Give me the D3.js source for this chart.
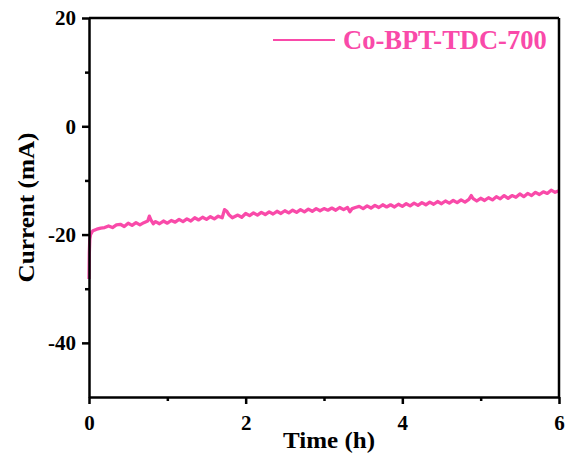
<!DOCTYPE html>
<html>
<head>
<meta charset="utf-8">
<script src="https://cdn.jsdelivr.net/npm/d3@7"></script>
<style>
  body { margin: 0; background: #fff; }
</style>
</head>
<body>
<svg id="chart" width="565" height="459"></svg>
<script>
// data: [time (h), current (mA)]
const series = [
  [0,-28.2],[0.004,-23.5],[0.01,-20.8],[0.02,-20.0],[0.035,-19.6],[0.05,-19.3],[0.1,-19.0],[0.15,-18.8],
  [0.2,-18.7],[0.25,-18.4],[0.3,-18.7],[0.35,-18.2],[0.4,-18.1],[0.45,-18.5],[0.5,-17.9],[0.55,-18.3],
  [0.6,-17.8],[0.65,-18.2],[0.7,-17.8],[0.75,-17.5],[0.77,-16.6],[0.79,-17.3],[0.82,-18.0],[0.85,-17.6],
  [0.9,-18.0],[0.95,-17.5],[1.0,-17.9],[1.05,-17.4],[1.1,-17.7],[1.15,-17.2],[1.2,-17.6],[1.25,-17.1],
  [1.3,-17.5],[1.35,-16.9],[1.4,-17.3],[1.45,-16.8],[1.5,-17.2],[1.55,-16.7],[1.6,-17.1],[1.65,-16.6],
  [1.7,-16.9],[1.73,-15.4],[1.76,-15.7],[1.79,-16.4],[1.83,-16.9],[1.9,-16.4],[1.95,-16.8],[2.0,-16.1],
  [2.05,-16.5],[2.1,-16.0],[2.15,-16.4],[2.2,-15.9],[2.25,-16.3],[2.3,-15.8],[2.35,-16.2],[2.4,-15.7],
  [2.45,-16.1],[2.5,-15.6],[2.55,-16.0],[2.6,-15.5],[2.65,-15.9],[2.7,-15.4],[2.75,-15.8],[2.8,-15.3],
  [2.85,-15.7],[2.9,-15.2],[2.95,-15.6],[3.0,-15.2],[3.05,-15.5],[3.1,-15.1],[3.15,-15.5],[3.2,-15.0],
  [3.25,-15.4],[3.3,-15.0],[3.33,-15.8],[3.36,-15.2],[3.4,-15.0],[3.45,-14.8],[3.5,-15.2],[3.55,-14.7],
  [3.6,-15.1],[3.65,-14.6],[3.7,-15.0],[3.75,-14.5],[3.8,-14.9],[3.85,-14.5],[3.9,-14.9],[3.95,-14.4],
  [4.0,-14.8],[4.05,-14.3],[4.1,-14.7],[4.15,-14.2],[4.2,-14.6],[4.25,-14.1],[4.3,-14.5],[4.35,-14.0],
  [4.4,-14.4],[4.45,-13.9],[4.5,-14.3],[4.55,-13.8],[4.6,-14.2],[4.65,-13.7],[4.7,-14.1],[4.75,-13.6],
  [4.8,-14.0],[4.85,-13.5],[4.88,-12.8],[4.9,-13.3],[4.95,-13.8],[5.0,-13.3],[5.05,-13.7],[5.1,-13.2],
  [5.15,-13.6],[5.2,-13.0],[5.25,-13.4],[5.3,-12.8],[5.35,-13.3],[5.4,-12.8],[5.45,-13.1],[5.5,-12.5],
  [5.55,-13.0],[5.6,-12.4],[5.65,-12.8],[5.7,-12.2],[5.75,-12.6],[5.8,-12.1],[5.85,-12.4],[5.9,-11.8],
  [5.95,-12.2],[6.0,-11.9]
];
const xTicks = [0, 2, 4, 6];
const xMinor = [1, 3, 5];
const yTicks = [-40, -20, 0, 20];
const yMinor = [-30, -10, 10];
const seriesName = "Co-BPT-TDC-700";
const pink = "#f94aa9";
const serif = "'Liberation Serif', 'Times New Roman', Times, serif";

const svg = d3.select("#chart").attr("font-family", serif).attr("font-weight", "bold"),
    margin = {top: 18, right: 6, bottom: 62, left: 89},
    width = 565 - margin.left - margin.right,
    height = 459 - margin.top - margin.bottom,
    g = svg.append("g").attr("transform", "translate(" + margin.left + "," + margin.top + ")");

const x = d3.scaleLinear().domain([0, 6]).range([0, width]);
const y = d3.scaleLinear().domain([-50, 20]).range([height, 0]);

// line first so the frame sits on top
const line = d3.line()
    .x(function(d) { return x(d[0]); })
    .y(function(d) { return y(d[1]); });

g.append("path")
    .datum(series)
    .attr("fill", "none")
    .attr("stroke", pink)
    .attr("stroke-width", 3.3)
    .attr("stroke-linejoin", "round")
    .attr("d", line);

// top and right frame lines
g.append("line").attr("x1", 0).attr("x2", width).attr("y1", 0).attr("y2", 0)
    .attr("stroke", "#000").attr("stroke-width", 2.5);
g.append("line").attr("x1", width).attr("x2", width).attr("y1", 0).attr("y2", height)
    .attr("stroke", "#000").attr("stroke-width", 2.5);

// minor ticks
g.append("g").attr("transform", "translate(0," + height + ")")
    .call(d3.axisBottom(x).tickValues(xMinor).tickSize(4).tickFormat(""))
    .call(function(a) { a.select(".domain").remove(); a.selectAll("line").attr("stroke-width", 2.5); });
g.append("g")
    .call(d3.axisLeft(y).tickValues(yMinor).tickSize(4).tickFormat(""))
    .call(function(a) { a.select(".domain").remove(); a.selectAll("line").attr("stroke-width", 2.5); });

// major axes
const fmt = function(d) { return String(d); };
const xAxis = g.append("g").attr("transform", "translate(0," + height + ")")
    .call(d3.axisBottom(x).tickValues(xTicks).tickFormat(fmt).tickSize(7).tickSizeOuter(0).tickPadding(11));
const yAxis = g.append("g")
    .call(d3.axisLeft(y).tickValues(yTicks).tickFormat(fmt).tickSize(7).tickSizeOuter(0).tickPadding(6));

[xAxis, yAxis].forEach(function(a) {
  a.attr("font-family", serif).attr("font-size", null);
  a.select(".domain").attr("stroke-width", 2.5);
  a.selectAll(".tick line").attr("stroke-width", 2.5);
  a.selectAll(".tick text").attr("font-size", "21px").attr("font-family", serif)
      .attr("font-weight", "bold").attr("fill", "#000");
});

// axis titles (glyphs are a bit wide in the original, so fix their lengths)
g.append("text")
    .attr("x", width / 2 + 5)
    .attr("y", height + 51)
    .attr("font-family", serif)
    .attr("font-size", "23px")
    .attr("text-anchor", "middle")
    .attr("textLength", 92)
    .attr("lengthAdjust", "spacingAndGlyphs")
    .text("Time (h)");

g.append("text")
    .attr("transform", "rotate(-90)")
    .attr("x", -height / 2)
    .attr("y", -55)
    .attr("font-family", serif)
    .attr("font-size", "23px")
    .attr("text-anchor", "middle")
    .attr("textLength", 150)
    .attr("lengthAdjust", "spacingAndGlyphs")
    .text("Current (mA)");

// legend
const legend = g.append("g").attr("transform", "translate(" + (273 - margin.left) + "," + (40 - margin.top) + ")");
legend.append("line").attr("x1", 0).attr("x2", 62).attr("y1", 0).attr("y2", 0)
    .attr("stroke", pink).attr("stroke-width", 2);
legend.append("text")
    .attr("x", 70)
    .attr("y", 9)
    .attr("font-family", serif)
    .attr("font-size", "26.5px")
    .attr("fill", pink)
    .text(seriesName);
</script>
</body>
</html>
